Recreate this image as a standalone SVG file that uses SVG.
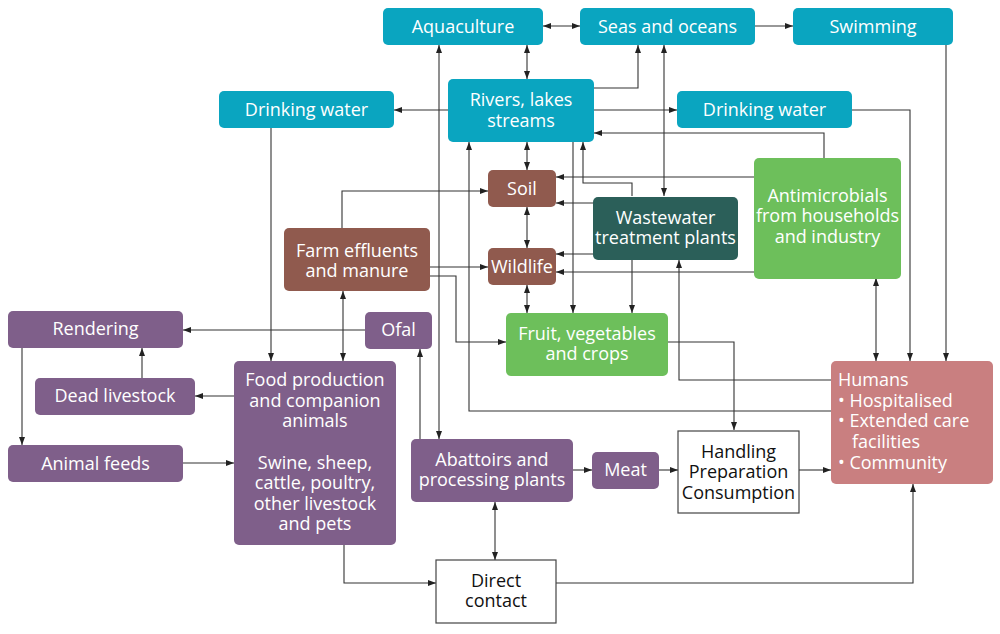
<svg xmlns="http://www.w3.org/2000/svg" width="1000" height="634" viewBox="0 0 1000 634">
<defs>
<marker id="ah" viewBox="0 0 8 6" refX="8" refY="3" markerWidth="8" markerHeight="6" markerUnits="userSpaceOnUse" orient="auto-start-reverse">
<path d="M0,0 L8,3 L0,6 z" fill="#222"/>
</marker>
<style>
.c path{fill:none;stroke:#333;stroke-width:1.1;marker-end:url(#ah)}
.c path.b{marker-start:url(#ah)}
text{font-family:"Open Sans","Liberation Sans",sans-serif;font-size:18px;font-weight:400;text-anchor:middle;fill:#fff}
.teal rect{fill:#0aa5c0}
.brown rect{fill:#905a4e}
.dteal rect{fill:#2b5f59}
.green rect{fill:#6dbf5b}
.purple rect{fill:#7f5f8a}
.pink rect{fill:#c97f80}
.white rect{fill:#fff;stroke:#444;stroke-width:1.2}
.white text{fill:#111}
.pink text{text-anchor:start}
</style>
</defs>
<rect width="1000" height="634" fill="#fff"/>
<g class="c" id="connectors">
<path class="b" d="M543,26 H580"/>
<path d="M755,26 H793"/>
<path class="b" d="M527,45 V79"/>
<path d="M594,88 H638 V45"/>
<path class="b" d="M664,45 V196"/>
<path class="b" d="M439,45 V439"/>
<path d="M448,110 H394"/>
<path d="M594,110 H677"/>
<path d="M824,158 V133 H594"/>
<path d="M852,110 H910 V361"/>
<path d="M946,45 V361"/>
<path d="M271,128 V361"/>
<path class="b" d="M527,142 V170"/>
<path class="b" d="M527,207 V248"/>
<path class="b" d="M527,285 V313"/>
<path d="M342,228 V191 H488"/>
<path d="M430,267 H488"/>
<path d="M430,276 H456 V342 H506"/>
<path class="b" d="M343,291 V361"/>
<path d="M831,411 H469 V142"/>
<path d="M573,142 V313"/>
<path d="M632,196 V183 H583 V142"/>
<path d="M754,177 H556"/>
<path d="M593,203 H556"/>
<path d="M593,254 H556"/>
<path d="M754,272 H556"/>
<path d="M632,260 V313"/>
<path d="M831,380 H679 V260"/>
<path d="M668,342 H734 V430"/>
<path class="b" d="M876,278 V361"/>
<path d="M799,470 H831"/>
<path d="M659,470 H678"/>
<path d="M573,470 H592"/>
<path d="M420,439 V349"/>
<path d="M365,330 H183"/>
<path d="M22,348 V445"/>
<path d="M142,378 V348"/>
<path d="M234,396 H195"/>
<path d="M183,463 H234"/>
<path d="M344,545 V583 H436"/>
<path class="b" d="M495,502 V560"/>
<path d="M556,583 H913 V484"/>
</g>
<g id="aquaculture" class="teal"><rect x="383" y="8" width="160" height="37" rx="5"/><text x="463" y="33">Aquaculture</text></g>
<g id="seas" class="teal"><rect x="580" y="8" width="175" height="37" rx="5"/><text x="667.5" y="33">Seas and oceans</text></g>
<g id="swimming" class="teal"><rect x="793" y="8" width="160" height="37" rx="5"/><text x="873" y="33">Swimming</text></g>
<g id="rivers" class="teal"><rect x="448" y="79" width="146" height="63" rx="5"/><text x="521" y="106">Rivers, lakes</text><text x="521" y="127">streams</text></g>
<g id="drinking-left" class="teal"><rect x="219" y="91" width="175" height="37" rx="5"/><text x="306.5" y="116">Drinking water</text></g>
<g id="drinking-right" class="teal"><rect x="677" y="91" width="175" height="37" rx="5"/><text x="764.5" y="116">Drinking water</text></g>
<g id="soil" class="brown"><rect x="488" y="170" width="68" height="37" rx="5"/><text x="522" y="195">Soil</text></g>
<g id="wildlife" class="brown"><rect x="488" y="248" width="68" height="37" rx="5"/><text x="522" y="273">Wildlife</text></g>
<g id="farm" class="brown"><rect x="284" y="228" width="146" height="63" rx="5"/><text x="357" y="257">Farm effluents</text><text x="357" y="277">and manure</text></g>
<g id="wastewater" class="dteal"><rect x="593" y="197" width="145" height="63" rx="5"/><text x="665.5" y="224">Wastewater</text><text x="665.5" y="244">treatment plants</text></g>
<g id="antimicrobials" class="green"><rect x="754" y="158" width="147" height="121" rx="5"/><text x="827.5" y="202">Antimicrobials</text><text x="827.5" y="222">from households</text><text x="827.5" y="243">and industry</text></g>
<g id="fruit" class="green"><rect x="506" y="313" width="162" height="63" rx="5"/><text x="587" y="340">Fruit, vegetables</text><text x="587" y="360">and crops</text></g>
<g id="rendering" class="purple"><rect x="8" y="311" width="175" height="37" rx="5"/><text x="95.5" y="335">Rendering</text></g>
<g id="ofal" class="purple"><rect x="365" y="312" width="67" height="37" rx="5"/><text x="398.5" y="336">Ofal</text></g>
<g id="dead-livestock" class="purple"><rect x="35" y="378" width="160" height="37" rx="5"/><text x="115" y="402">Dead livestock</text></g>
<g id="animal-feeds" class="purple"><rect x="8" y="445" width="175" height="37" rx="5"/><text x="95.5" y="470">Animal feeds</text></g>
<g id="food-production" class="purple"><rect x="234" y="361" width="162" height="184" rx="5"/>
<text x="315" y="386">Food production</text><text x="315" y="407">and companion</text><text x="315" y="427">animals</text>
<text x="315" y="469">Swine, sheep,</text><text x="315" y="489">cattle, poultry,</text><text x="315" y="510">other livestock</text><text x="315" y="530">and pets</text></g>
<g id="abattoirs" class="purple"><rect x="411" y="439" width="162" height="63" rx="5"/><text x="492" y="466">Abattoirs and</text><text x="492" y="486">processing plants</text></g>
<g id="meat" class="purple"><rect x="592" y="452" width="67" height="37" rx="5"/><text x="625.5" y="476">Meat</text></g>
<g id="handling" class="white"><rect x="678" y="431" width="121" height="82"/><text x="738.5" y="458">Handling</text><text x="738.5" y="478">Preparation</text><text x="738.5" y="499">Consumption</text></g>
<g id="direct-contact" class="white"><rect x="436" y="560" width="120" height="63"/><text x="496" y="587">Direct</text><text x="496" y="607">contact</text></g>
<g id="humans" class="pink"><rect x="831" y="361" width="162" height="123" rx="5"/>
<text x="838" y="386">Humans</text>
<text x="838" y="407">• Hospitalised</text>
<text x="838" y="427">• Extended care</text>
<text x="852" y="448">facilities</text>
<text x="838" y="469">• Community</text></g>
</svg>
